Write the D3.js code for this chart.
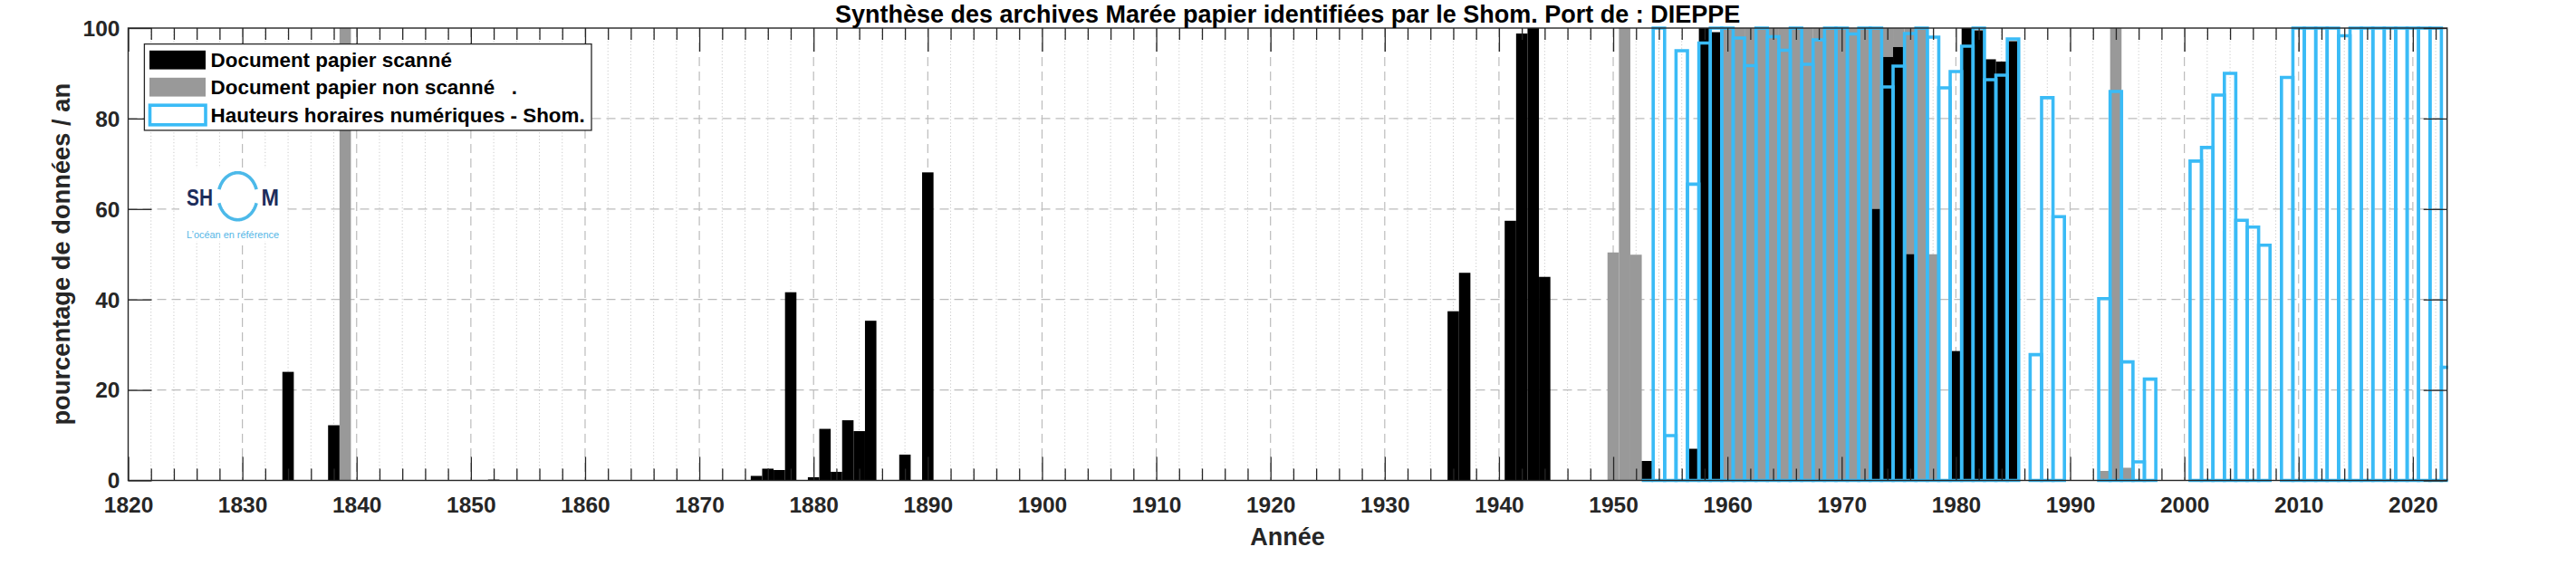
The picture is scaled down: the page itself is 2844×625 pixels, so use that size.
<!DOCTYPE html>
<html><head><meta charset="utf-8">
<script src="https://cdn.jsdelivr.net/npm/d3@7/dist/d3.min.js"></script>
<style>
body{margin:0;background:#fff}
svg text{font-family:"Liberation Sans",Arial,Helvetica,sans-serif}
</style>
</head><body>
<svg id="chart" width="2844" height="625"></svg>
<script>
// ---------- DATA ----------
const scannedYears  = [1834, 1838, 1875, 1876, 1877, 1878, 1880, 1881, 1882, 1883, 1884, 1885, 1888, 1890,
                       1936, 1937, 1941, 1942, 1943, 1944, 1953, 1957, 1958, 1959,
                       1973, 1974, 1975, 1976, 1980, 1981, 1982, 1983, 1984, 1985];
const scannedValues = [24, 12.2, 1, 2.6, 2.3, 41.6, 0.7, 11.4, 1.9, 13.3, 10.9, 35.3, 5.7, 68.1,
                       37.4, 45.9, 57.4, 98.8, 100, 45, 4.3, 7, 100, 99.1,
                       60, 93.6, 95.8, 50, 28.6, 100, 99.5, 93.1, 92.6, 97.1];

const nonScannedYears  = [1839, 1852, 1950, 1951, 1952,
                          1960, 1961, 1962, 1963, 1964, 1965, 1966, 1967, 1968, 1969,
                          1970, 1971, 1972, 1973, 1974, 1975, 1976, 1977, 1978,
                          1993, 1994, 1995];
const nonScannedValues = [100, 0.3, 50.4, 100, 49.9,
                          100, 100, 100, 100, 100, 100, 100, 100, 100, 100,
                          100, 100, 100, 100, 100, 100, 100, 100, 50,
                          2.1, 100, 2.8];

const digitalYears  = [1953, 1954, 1955, 1956, 1957, 1958, 1959, 1960, 1961, 1962, 1963, 1964, 1965,
                       1966, 1967, 1968, 1969, 1970, 1971, 1972, 1973, 1974, 1975, 1976, 1977, 1978,
                       1979, 1980, 1981, 1982, 1983, 1984, 1985, 1987, 1988, 1989,
                       1993, 1994, 1995, 1996, 1997,
                       2001, 2002, 2003, 2004, 2005, 2006, 2007,
                       2009, 2010, 2011, 2012, 2013, 2014, 2015, 2016, 2017, 2018, 2019, 2020, 2021, 2022, 2023];
const digitalValues = [0, 100, 9.9, 95, 65.5, 96.7, 100, 100, 97.8, 91.7, 100, 98.1, 95.1,
                       100, 92, 97.4, 100, 100, 98.7, 100, 100, 87, 91.6, 98.8, 100, 98,
                       86.8, 90.4, 96, 100, 88.6, 89.6, 97.6, 27.8, 84.6, 58.3,
                       40.2, 86, 26.2, 4.1, 22.4,
                       70.6, 73.6, 85.2, 90, 57.5, 56, 52,
                       89.1, 100, 100, 100, 100, 98.3, 100, 100, 100, 100, 100, 100, 100, 100, 25];

const xTickValues = [1820, 1830, 1840, 1850, 1860, 1870, 1880, 1890, 1900, 1910, 1920,
                     1930, 1940, 1950, 1960, 1970, 1980, 1990, 2000, 2010, 2020];
const yTickValues = [0, 20, 40, 60, 80, 100];
const titleText = "Synthèse des archives Marée papier identifiées par le Shom. Port de : DIEPPE";
const xLabel = "Année";
const yLabel = "pourcentage de données / an";
const legendLabels = ["Document papier scanné", "Document papier non scanné   .", "Hauteurs horaires numériques - Shom."];

// ---------- LAYOUT ----------
const svg = d3.select("#chart");
const L = 141.5, R = 2701.7, T = 31, B = 530.5;
const x = d3.scaleLinear().domain([1820, 2023]).range([L, R]);
const y = d3.scaleLinear().domain([0, 100]).range([B, T]);
const axisColor = "#262626";
const blue = "rgb(58,187,246)";
const minorYears = d3.range(1822, 2023, 2).filter(v => v % 10 !== 0);

svg.append("rect").attr("width", 2844).attr("height", 625).attr("fill", "#fff");

// grid
const grid = svg.append("g");
grid.selectAll("line.minor").data(minorYears).join("line")
  .attr("x1", d => x(d)).attr("x2", d => x(d)).attr("y1", T).attr("y2", B)
  .attr("stroke", "#cacaca").attr("stroke-width", 1).attr("stroke-dasharray", "1.2,2.4");
grid.selectAll("line.majx").data(xTickValues.slice(1)).join("line")
  .attr("x1", d => x(d)).attr("x2", d => x(d)).attr("y1", T).attr("y2", B)
  .attr("stroke", "#bcbcbc").attr("stroke-width", 1.2).attr("stroke-dasharray", "10,6");
grid.selectAll("line.majy").data(yTickValues.slice(1, -1)).join("line")
  .attr("x1", L).attr("x2", R).attr("y1", d => y(d)).attr("y2", d => y(d))
  .attr("stroke", "#bcbcbc").attr("stroke-width", 1.2).attr("stroke-dasharray", "10,6");

// clip
svg.append("defs").append("clipPath").attr("id", "clip")
  .append("rect").attr("x", L - 3).attr("y", T - 5).attr("width", R - L + 4).attr("height", B - T + 10);
const plot = svg.append("g").attr("clip-path", "url(#clip)");

// gray bars
plot.append("g").selectAll("rect").data(d3.zip(nonScannedYears, nonScannedValues)).join("rect")
  .attr("x", d => x(d[0] - 0.5)).attr("width", d => x(d[0] + 0.5) - x(d[0] - 0.5))
  .attr("y", d => y(d[1])).attr("height", d => y(0) - y(d[1]))
  .attr("fill", "#999999");
// black bars
plot.append("g").selectAll("rect").data(d3.zip(scannedYears, scannedValues)).join("rect")
  .attr("x", d => x(d[0] - 0.5)).attr("width", d => x(d[0] + 0.5) - x(d[0] - 0.5))
  .attr("y", d => y(d[1])).attr("height", d => y(0) - y(d[1]))
  .attr("fill", "#000");
// blue outlined bars
plot.append("g").selectAll("path").data(d3.zip(digitalYears, digitalValues)).join("path")
  .attr("d", d => {
    const x0 = x(d[0] - 0.5), x1 = x(d[0] + 0.5), y0 = y(0), y1 = y(d[1]);
    return `M${x0},${y0}V${y1}H${x1}V${y0}Z`;
  })
  .attr("fill", "none").attr("stroke", blue).attr("stroke-width", 3.6).attr("stroke-linejoin", "miter");

// axes (ticks inward)
const fs = 24.5;
svg.append("g").attr("transform", `translate(0,${B})`)
  .call(d3.axisBottom(x).tickValues(xTickValues).tickSize(-26).tickPadding(18).tickFormat(d3.format("d")));
svg.append("g").attr("transform", `translate(0,${B})`)
  .call(d3.axisBottom(x).tickValues(minorYears).tickSize(-13).tickFormat(""));
svg.append("g").attr("transform", `translate(0,${T})`)
  .call(d3.axisTop(x).tickValues(xTickValues).tickSize(-26).tickFormat(""));
svg.append("g").attr("transform", `translate(0,${T})`)
  .call(d3.axisTop(x).tickValues(minorYears).tickSize(-13).tickFormat(""));
const gL = svg.append("g").attr("transform", `translate(${L},0)`)
  .call(d3.axisLeft(y).tickValues(yTickValues).tickSize(-26).tickPadding(9).tickFormat(d3.format("d")));
svg.append("g").attr("transform", `translate(${R},0)`)
  .call(d3.axisRight(y).tickValues(yTickValues).tickSize(-26).tickFormat(""));
svg.selectAll(".domain").remove();
svg.selectAll(".tick line").attr("stroke", axisColor).attr("stroke-width", 1.3);
svg.selectAll(".tick text").attr("fill", axisColor).attr("font-size", fs).attr("font-weight", "bold")
  .style("font-family", '"Liberation Sans",Arial,sans-serif');
gL.selectAll(".tick text").attr("dy", "0.34em");

// box
svg.append("rect").attr("x", L).attr("y", T).attr("width", R - L).attr("height", B - T)
  .attr("fill", "none").attr("stroke", axisColor).attr("stroke-width", 1.4);

// labels
svg.append("text").attr("x", (L + R) / 2).attr("y", 24.5).attr("text-anchor", "middle")
  .attr("font-size", 27).attr("font-weight", "bold").attr("fill", "#000").text(titleText);
svg.append("text").attr("x", (L + R) / 2).attr("y", 602).attr("text-anchor", "middle")
  .attr("font-size", 27).attr("font-weight", "bold").attr("fill", axisColor).text(xLabel);
svg.append("text").attr("transform", `translate(77,${(T + B) / 2}) rotate(-90)`).attr("text-anchor", "middle")
  .attr("font-size", 27.3).attr("font-weight", "bold").attr("fill", axisColor).text(yLabel);

// legend
const lg = svg.append("g");
lg.append("rect").attr("x", 159.4).attr("y", 48.6).attr("width", 653 - 159.4).attr("height", 143.9 - 48.6)
  .attr("fill", "#fff").attr("stroke", "#262626").attr("stroke-width", 1.3);
const rows = [66.2, 96.2, 127];
lg.append("rect").attr("x", 165).attr("y", rows[0] - 10.4).attr("width", 62).attr("height", 20.8).attr("fill", "#000");
lg.append("rect").attr("x", 165).attr("y", rows[1] - 10.4).attr("width", 62).attr("height", 20.8).attr("fill", "#999999");
lg.append("rect").attr("x", 165.5).attr("y", rows[2] - 10.8).attr("width", 61.5).attr("height", 21.6)
  .attr("fill", "#fff").attr("stroke", blue).attr("stroke-width", 3.6);
lg.selectAll("text").data(legendLabels).join("text")
  .attr("x", 232.6).attr("y", (d, i) => rows[i]).attr("dy", "0.36em")
  .attr("font-size", 22.4).attr("font-weight", "bold").attr("fill", "#000")
  .style("white-space", "pre").text(d => d);

// Shom logo
const logo = svg.append("g");
logo.append("rect").attr("x", 198).attr("y", 186).attr("width", 116).attr("height", 80).attr("fill", "#fff");
const cx = 262.5, cy = 216.7, rx = 21.5, ry = 26;
const arcPath = (a0, a1) => {
  const pts = d3.range(a0, a1 + 0.001, 2).map(a => [cx + rx * Math.cos(a * Math.PI / 180), cy + ry * Math.sin(a * Math.PI / 180)]);
  return d3.line()(pts);
};
logo.append("path").attr("d", arcPath(197, 343)).attr("fill", "none").attr("stroke", "#4cb9e9").attr("stroke-width", 3.6);
logo.append("path").attr("d", arcPath(17, 163)).attr("fill", "none").attr("stroke", "#4cb9e9").attr("stroke-width", 3.6);
logo.append("text").attr("x", 206).attr("y", 227).attr("font-size", 26.5).attr("font-weight", "bold")
  .attr("fill", "#1d2d5c").attr("textLength", 29).attr("lengthAdjust", "spacingAndGlyphs").text("SH");
logo.append("text").attr("x", 288.5).attr("y", 227).attr("font-size", 26.5).attr("font-weight", "bold")
  .attr("fill", "#1d2d5c").attr("textLength", 19.5).attr("lengthAdjust", "spacingAndGlyphs").text("M");
logo.append("text").attr("x", 206).attr("y", 262.5).attr("font-size", 10).attr("fill", "#55b6e6")
  .attr("textLength", 102).attr("lengthAdjust", "spacingAndGlyphs").text("L’océan en référence");
</script>
</body></html>
